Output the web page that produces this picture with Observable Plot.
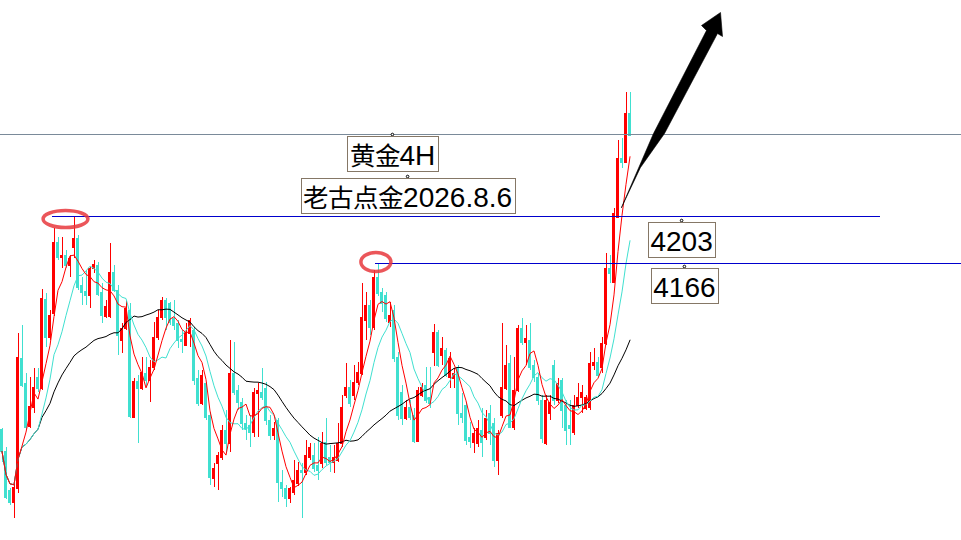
<!DOCTYPE html>
<html>
<head>
<meta charset="utf-8">
<script src="https://cdn.jsdelivr.net/npm/d3@7"></script>
<script src="https://cdn.jsdelivr.net/npm/@observablehq/plot@0.6"></script>
<style>
  @font-face {
    font-family: "LabelCJK";
    src: local("Noto Sans CJK SC"), local("Noto Sans CJK SC Regular"), local("NotoSansCJKsc-Regular");
    size-adjust: 91%;
    unicode-range: U+3000-9FFF;
  }
  html, body { margin: 0; padding: 0; background: #ffffff; }
  svg { display: block; }
</style>
</head>
<body>
<script>
// ---- Gold 4H candles (price values) ----
const opens = [4032.8,4015.2,3984,3974.4,3985.6,4089.6,4069.6,4035.2,4050.4,4074.4,4065.6,4136.8,4106.4,4125.6,4182.4,4170.4,4172,4164,4178.4,4185.6,
4148,4143.2,4140,4161.6,4164,4142.4,4123.2,4123.2,4158.4,4144,4104,4113.6,4128,4042.4,4071.2,4065.6,4077.6,4072,4082.4,4106.4,
4122.4,4136,4133.6,4121.6,4117.6,4104.8,4100,4109.6,4112,4073.6,4053.6,4069.6,4044,3993.6,4005.6,4010.4,4032,4021.6,4077.6,4064,
4054.4,4037.6,4036,4030.4,4061.6,4062.4,4065.6,4040,4028,4040,3990.4,3985.6,3977.6,3982.4,3989.6,4000,3998.4,4010.4,4012,4004,
4005.6,4022.4,4010.4,4006.4,4008,4021.6,4060,4066.4,4060,4070.4,4077.6,4120,4132,4114.4,4154.4,4142.4,4140,4118.4,4128,4090.4,
4062.4,4041.6,4050.4,4044,4023.2,4060,4068,4058.4,4094.4,4110.4,4092,4096,4074.4,4073.6,4082.4,4045.6,4052,4026.4,4022.4,4021.6,
4032,4026.4,4045.6,4037.6,4008,4044,4065.6,4085.6,4034.4,4064,4113.6,4102.4,4104,4084,4074.4,4056,4021.6,4045.6,4084,4056,
4072,4052,4036,4030.4,4052,4058.4,4049.6,4050.4,4084,4086.4,4082.4,4101.6,4161.6,4150.4,4202.4,4249.6,4246.4,4285.6];
const closes = [4015.2,3978.4,3974.4,3986.4,4090.4,4068,4034.4,4051.2,4066.4,4065.6,4137.6,4106.4,4124,4182.4,4170.4,4172,4164,4169.6,4185.6,4146.4,
4142.4,4140,4161.6,4164.8,4140.8,4124,4131.2,4158.4,4144,4108,4113.6,4129.6,4043.2,4071.2,4065.6,4078.4,4072,4082.4,4106.4,4122.4,
4136,4122.4,4118.4,4116,4104,4103.2,4110.4,4120,4072,4053.6,4076,4042.4,3994.4,4001.6,4012,4032,4021.6,4077.6,4062.4,4054.4,
4037.6,4033.6,4030.4,4062.4,4064,4058.4,4040,4028,4033.6,3990.4,3985.6,3977.6,3985.6,3992,4000,3998.4,4012,4018.4,4001.6,4000,
4021.6,4006.4,4006.4,4010.4,4021.6,4050.4,4066.4,4053.6,4070.4,4078.4,4122.4,4132,4114.4,4154.4,4141.6,4133.6,4121.6,4124,4089.6,4044,
4041.6,4050.4,4042.4,4023.2,4064,4066.4,4056,4053.6,4110.4,4084,4097.6,4076,4089.6,4077.6,4045.6,4042.4,4024,4023.2,4029.6,4033.6,
4022.4,4041.6,4029.6,4008,4029.6,4066.4,4084,4034.4,4064,4113.6,4102.4,4105.6,4082.4,4074.4,4056,4025.6,4056,4054.4,4056,4069.6,
4048,4032,4033.6,4052,4058.4,4062.4,4058.4,4085.6,4086.4,4076,4101.6,4161.6,4157.6,4205.6,4249.6,4246.4,4285.6,4268];
const highs = [4033.6,4018.4,3985.6,3990.4,4109.6,4116,4077.6,4074.4,4081.6,4081.6,4144.8,4141.6,4128,4193.6,4186.4,4186.4,4176,4172,4203,4188,
4154.4,4160,4162.4,4168,4166.4,4149.6,4136,4181.6,4164,4148,4117.6,4136,4133.6,4073.6,4076,4090.4,4090.4,4088,4118.4,4128,
4138.4,4137.6,4134.4,4136,4120,4112,4117.6,4121.6,4114.4,4080,4080,4070.4,4046.4,4005.6,4014.4,4036,4048,4104,4102.4,4068,
4057.6,4044,4044,4065.6,4069.6,4081.6,4070.4,4044,4038.4,4041.6,4000,3988,3986.4,4008,4006.4,4005.6,4024,4021.6,4021.6,4026.4,
4030.4,4041.6,4020,4020,4037.6,4060,4085.6,4072,4084,4086.4,4149.6,4142.4,4136,4160,4166,4145.6,4142.4,4134.4,4132,4094.4,
4068,4056,4056,4049.6,4066.4,4069.6,4082.4,4082.4,4116.8,4112,4106.4,4097.6,4094.4,4081.6,4084,4061.6,4053.6,4038.4,4033.6,4040,
4049.6,4048,4052,4041.6,4032,4117.6,4100,4092,4090.4,4116,4121.6,4116,4117.6,4088,4077.6,4060,4060,4060,4088,4073.6,
4073.6,4056,4056,4060,4069.6,4068,4060,4094.4,4097.6,4090.4,4106.4,4173.6,4172,4209.6,4264,4265.6,4302.4,4302.4];
const lows = [4006.4,3976.8,3972,3961.6,3981.6,4066.4,4032,4033.6,4045.6,4062.4,4064,4098.4,4104,4123.2,4168,4161.6,4161.6,4154.4,4169.6,4144,
4132,4132,4129.6,4157.6,4139.2,4117.6,4121.6,4121.6,4142.4,4092,4093.6,4112,4041.6,4041.6,4021.6,4064,4066.4,4054.4,4080,4104,
4120,4112,4116,4112,4097.6,4093.6,4099.2,4098.4,4068,4051.2,4052,4040,3988,3986.4,3984,4008,4014.4,4014.4,4060,4048,
4032,4024,4018.4,4026.4,4026.4,4056,4036,4024,4024,3974.4,3978.4,3970.4,3973.6,3980,3987.2,3961.6,3996,4008,3998.4,3992,
4001.6,4004,3998.4,3997.6,4006.4,4018.4,4057.6,4050.4,4056,4068,4076,4104,4108,4112,4139.2,4126.4,4118.4,4114.4,4086.4,4040,
4036,4040,4040,4021.6,4022.4,4058.4,4053.6,4049.6,4083.2,4082.4,4084,4074.4,4065.6,4065.6,4036,4037.6,4020,4017.6,4013.6,4018.4,
4010.4,4024,4020,4002.4,3996,4041.6,4064,4033.6,4032,4062.4,4100,4084,4080,4070.4,4052,4021.6,4020,4040,4052,4053.6,
4033.6,4020,4020,4028,4049.6,4045.6,4048,4048,4080,4074.4,4077.6,4100,4149.6,4149.6,4201.6,4241.6,4245.6,4267.2];

// Moving-average periods shown on the chart
const maPeriods = [5, 10, 30];

// Horizontal price lines (price, first bar, last bar)
const greyLine = [{price: 4269, from: -0.375, to: 239.875}];
const blueLines = [
  {price: 4203, from: 12.6, to: 219.6},
  {price: 4166, from: 93.4, to: 239.875}
];

// Red ellipses round the two highs (centre bar, centre price, half width in bars, half height in price)
const ellipses = [
  {i: 16, price: 4200.8, rx: 5.6, ry: 6.8},
  {i: 93.6, price: 4166.4, rx: 3.75, ry: 7.6}
];

// Text labels (anchor bar, anchor price)
const labels = [
  {text: "黄金4H", i: 97.6, price: 4268.8},
  {text: "老古点金2026.8.6", i: 101.4, price: 4235.2},
  {text: "4203", i: 169.9, price: 4200},
  {text: "4166", i: 170.6, price: 4163.2}
];

// Arrow outline (bar, price)
const arrow = [
  {i: 154.875, price: 4210.4},
  {i: 162.875, price: 4269.6},
  {i: 176.125, price: 4352.0},
  {i: 174.875, price: 4356.0},
  {i: 179.625, price: 4366.4},
  {i: 180.125, price: 4347.2},
  {i: 178.875, price: 4349.6},
  {i: 165.625, price: 4269.6},
  {i: 159.625, price: 4242.4}
];

const UP = "#ff0000", DOWN = "#40e0d0";
const candles = opens.map((o, i) => ({
  i, open: o, close: closes[i], high: highs[i], low: lows[i], up: closes[i] >= o
}));
const col = d => d.up ? UP : DOWN;

const xDomain = [-0.375, 239.875];
const yDomain = [3944, 4376];

const svg = Plot.plot({
  width: 961,
  height: 540,
  margin: 0,
  style: {background: "#ffffff", overflow: "visible"},
  x: {type: "linear", domain: xDomain, axis: null},
  y: {type: "linear", domain: yDomain, axis: null},
  marks: [
    Plot.ruleX(candles, {x: "i", y1: "low", y2: "high", stroke: col, strokeWidth: 1, shapeRendering: "crispEdges"}),
    Plot.rect(candles, {x1: d => d.i - 0.375, x2: d => d.i + 0.375, y1: "open", y2: "close", fill: col,
      insetTop: -0.5, insetBottom: -0.5, shapeRendering: "crispEdges"}),
    Plot.lineY(candles, Plot.windowY({k: maPeriods[2], anchor: "end"}, {x: "i", y: "close", stroke: "#000000", strokeWidth: 1})),
    Plot.lineY(candles, Plot.windowY({k: maPeriods[1], anchor: "end"}, {x: "i", y: "close", stroke: DOWN, strokeWidth: 1})),
    Plot.lineY(candles, Plot.windowY({k: maPeriods[0], anchor: "end"}, {x: "i", y: "close", stroke: UP, strokeWidth: 1})),
    Plot.ruleY(greyLine, {y: "price", x1: "from", x2: "to", stroke: "#7a8a99", strokeWidth: 1, shapeRendering: "crispEdges"}),
    Plot.ruleY(blueLines, {y: "price", x1: "from", x2: "to", stroke: "#0000cd", strokeWidth: 1, shapeRendering: "crispEdges"}),
    Plot.dot(labels, {x: "i", y: "price", r: 1.3, stroke: "#000000", fill: "#ffffff", strokeWidth: 1}),
    Plot.text(labels, {x: "i", y: "price", text: "text", textAnchor: "middle", lineAnchor: "middle", dy: 22,
      fontSize: 28, fontFamily: "'Liberation Sans', 'LabelCJK', 'Noto Sans CJK SC', sans-serif", fill: "#000000", ariaLabel: "labels"}),
    Plot.line(arrow, {x: "i", y: "price", curve: "linear-closed", fill: "#000000", stroke: "#000000", strokeWidth: 0.6})
  ]
});
document.body.append(svg);

// scales from the plot
function getScale(name, dom, rng) {
  const s = svg.scale(name);
  if (s && typeof s.apply === "function") return v => s.apply(v);
  const f = d3.scaleLinear(dom, rng);
  return v => f(v);
}
const sx = getScale("x", xDomain, [0, 961]);
const sy = getScale("y", yDomain, [540, 0]);
const NS = "http://www.w3.org/2000/svg";

// ellipses
const eg = document.createElementNS(NS, "g");
ellipses.forEach(e => {
  const el = document.createElementNS(NS, "ellipse");
  const cx = sx(e.i), cy = sy(e.price);
  el.setAttribute("cx", cx);
  el.setAttribute("cy", cy);
  el.setAttribute("rx", Math.abs(sx(e.i + e.rx) - cx));
  el.setAttribute("ry", Math.abs(sy(e.price + e.ry) - cy));
  el.setAttribute("fill", "none");
  el.setAttribute("stroke", "#e8383d");
  el.setAttribute("stroke-width", 3.5);
  el.setAttribute("stroke-opacity", 0.85);
  eg.appendChild(el);
});
svg.appendChild(eg);

// boxes round the labels (drawn once fonts are ready so the widths are right)
function drawBoxes() {
  const labelG = svg.querySelector('g[aria-label="labels"]') || svg.querySelector('g[aria-label="text"]');
  if (!labelG) return;
  const old = svg.querySelector("g.label-boxes");
  if (old) old.remove();
  const sr = svg.getBoundingClientRect();
  const bg = document.createElementNS(NS, "g");
  bg.setAttribute("class", "label-boxes");
  svg.insertBefore(bg, labelG);
  labelG.querySelectorAll("text").forEach((t, k) => {
    const r = t.getBoundingClientRect();
    const ay = sy(labels[k].price);
    const rect = document.createElementNS(NS, "rect");
    rect.setAttribute("x", Math.round(r.left - sr.left - 2.5) + 0.5);
    rect.setAttribute("y", Math.round(ay + 2) + 0.5);
    rect.setAttribute("width", Math.round(r.width + 5));
    rect.setAttribute("height", 35);
    rect.setAttribute("fill", "#ffffff");
    rect.setAttribute("stroke", "#857766");
    rect.setAttribute("stroke-width", 1);
    bg.appendChild(rect);
  });
}
drawBoxes();
if (document.fonts && document.fonts.ready) document.fonts.ready.then(drawBoxes);
</script>
</body>
</html>
